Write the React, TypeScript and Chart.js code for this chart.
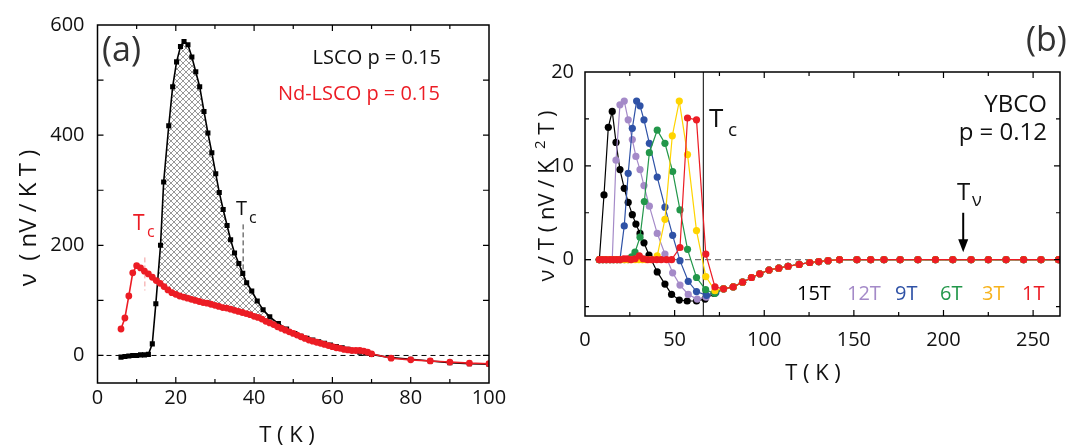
import React, { useEffect, useRef } from "react";
import { Chart, registerables } from "chart.js";
Chart.register(...registerables);

// ---------- Panel (a) data ----------
const lscoT = [6, 7, 8, 9, 10, 11, 12, 13, 14, 14.9, 16.1, 16.9, 18.2, 19.2, 20.2, 21.2, 22.1, 23.1, 24.1, 25.1, 26.1, 27.2, 28.2, 29.2, 30.2, 31.1, 32.1, 33.1, 34, 35, 36.1, 37.1, 38.1, 39.4, 40.8, 42.3, 44, 46.2, 48.3, 50.4, 52, 53.5, 55, 56.5, 58, 59.5, 61, 62.5, 64, 65.5, 67, 68.5, 70, 75, 80, 85, 90, 95, 100];
const lscoV = [-3, -2, -1, 0, 0, 1, 1, 2, 21, 94, 200, 315, 417, 488, 533, 561, 570, 564, 542, 515, 488, 443, 404, 368, 330, 296, 265, 236, 210, 186, 167, 149, 132, 117, 99, 83, 70, 58, 48, 40, 35, 31, 28, 25, 22, 19, 16, 14, 11, 9, 6, 4, 2, -4, -7, -10, -13, -15, -16];
const ndT = [6, 7, 8, 9, 10, 11, 12, 13, 14, 15, 16, 17, 18, 19, 20, 21, 22, 23, 24, 25, 26, 27, 28, 29, 30, 31, 32, 33, 34, 35, 36, 37, 38, 39, 40, 41, 42, 43, 44, 45, 46, 47, 48, 49, 50, 51, 52, 53, 54, 55, 56, 57, 58, 59, 60, 61, 62, 63, 64, 65, 66, 67, 68, 69, 70, 75, 80, 85, 90, 95, 100];
const ndV = [48, 68, 108, 150, 163, 159, 153, 148, 142, 136, 131, 125, 119, 114, 111, 108, 106, 104, 102, 100, 98, 96, 95, 93, 91, 89, 87, 86, 84, 82, 80, 78, 76, 74, 71, 69, 66, 62, 59, 56, 52, 49, 46, 43, 40, 37, 34, 31, 28, 26, 24, 22, 20, 18, 16, 14, 13, 11, 10, 9, 9, 9, 8, 6, 3, -5, -8, -10, -12, -14, -15];
const aXTicks = [0, 20, 40, 60, 80, 100];
const aXMinor = [10, 30, 50, 70, 90];
const aYTicks = [0, 200, 400, 600];
const aYMinor = [100, 300, 500];
const tcLsco = 37.2;
const tcNd = 12.1;

// ---------- Panel (b) data ----------
const b15T = [8, 10.6, 13, 15.2, 17.3, 19.5, 21.9, 24.1, 26.4, 28.4, 30.7, 32.9, 35.7, 40.3, 44.6, 48.3, 52.6, 57, 62.2, 67, 72];
const b15V = [0, 6.9, 14.1, 15.8, 12.5, 9.6, 7.6, 6.1, 4.8, 3.8, 2.8, 1.8, 0.5, -1.3, -2.6, -3.7, -4.3, -4.4, -4.4, -4.2, -3.6];
const b12T = [8, 10, 12, 14, 15.2, 17.3, 19.5, 21.9, 24.1, 26.4, 28.4, 30.7, 32.9, 35.9, 40.3, 44.6, 48.9, 53, 57.6, 62.6, 67.6, 72.5];
const b12V = [0, 0, 0, 0, 0, 10.6, 16.5, 16.9, 14.9, 12.8, 11.0, 9.6, 7.9, 5.7, 2.8, 0.6, -1.4, -2.7, -3.7, -4.2, -4.0, -3.5];
const b9T = [8, 10, 12, 14, 16, 18, 19.5, 21.9, 24.1, 26.4, 28.8, 30.7, 32.9, 35.9, 40.3, 44.6, 48.9, 53, 57.6, 62.2, 67.8, 73];
const b9V = [0, 0, 0, 0, 0, 0, 0, 3.6, 9.2, 14, 16.9, 16.4, 14.9, 12.4, 8.8, 5.6, 2.6, -0.1, -2.3, -3.4, -3.8, -3.5];
const b6T = [8, 10, 12, 14, 16, 18, 20, 22, 24.1, 26, 27.9, 30.7, 33.1, 35.9, 40.3, 44.6, 48.9, 53, 57.2, 62.2, 67.3, 72.4];
const b6V = [0, 0, 0, 0, 0, 0, 0, 0, 0, 0.3, 0.8, 2.4, 6.2, 11.4, 13.8, 12.4, 9.4, 5.3, 1.1, -1.9, -3.2, -3.6];
const b3T = [8, 10, 12, 14, 16, 18, 20, 22, 24, 26, 28, 30, 32, 34, 36.5, 40.3, 44.6, 48.7, 52.6, 57.2, 62.2, 67.4, 72.5];
const b3V = [0, 0, 0, 0, 0, 0, 0, 0, 0, 0, 0, 0, 0, 0, 0, 0.4, 4.3, 13.2, 16.9, 11.2, 3.1, -1.8, -3.3];
const b1T = [8, 9.8, 11.7, 13.9, 15.8, 17.7, 19.5, 21.7, 23.6, 25.6, 27.9, 30.3, 32.5, 35, 37.5, 40, 42.5, 45.5, 48.3, 53, 57.2, 62.2, 67.4, 72.5];
const b1V = [0, 0, 0, 0, 0, 0, 0, 0.1, 0.1, 0, 0.1, 0.4, 0.1, 0, 0, 0, 0, 0, 0, 1.3, 15.1, 14.9, 0.6, -2.9];
// common high-temperature tail shared by all fields
const tailT = [77.3, 82.7, 87.9, 92.9, 97.5, 102.7, 108.1, 113.3, 119.5, 125.4, 130.4, 135.6, 142, 151.7, 159.4, 166.8, 175.8, 185.7, 195.5, 205.2, 215.4, 225, 234.9, 244.7, 254.4, 264.2];
const tailV = [-3.1, -2.9, -2.4, -1.9, -1.5, -1.1, -0.9, -0.7, -0.5, -0.3, -0.2, -0.1, 0, 0, 0, 0, 0, 0, 0, 0, 0, 0, 0, 0, 0, 0];
const bLabels = ["15T", "12T", "9T", "6T", "3T", "1T"];
const bColors = ["#000000", "#a48ac8", "#2f52a6", "#22974a", "#ffd400", "#ec1c24"];
const bLabelColors = ["#000000", "#a48ac8", "#2f52a6", "#22974a", "#f7b31c", "#ec1c24"];
const bXTicks = [0, 50, 100, 150, 200, 250];
const bXMinor = [25, 75, 125, 175, 225];
const bYTicks = [0, 10, 20];
const bYMinor = [-5, 5, 15];
const tcYbco = 66;
const tNu = 211;

const FONT = "'Open Sans', 'DejaVu Sans', sans-serif";
const RED = "#ec1c24";

function pts(t: number[], v: number[]) {
  return t.map((x, i) => ({ x, y: v[i] }));
}

function makeHatch(): CanvasPattern | string {
  const c = document.createElement("canvas");
  const s = 6;
  c.width = s;
  c.height = s;
  const g = c.getContext("2d");
  if (!g) return "rgba(120,120,120,0.4)";
  g.strokeStyle = "#8c8c8c";
  g.lineWidth = 0.9;
  g.beginPath();
  g.moveTo(-1, -1);
  g.lineTo(s + 1, s + 1);
  g.moveTo(s + 1, -1);
  g.lineTo(-1, s + 1);
  g.stroke();
  return g.createPattern(c, "repeat") || "rgba(120,120,120,0.4)";
}

function txt(ctx: CanvasRenderingContext2D, s: string, x: number, y: number, size: number, color: string, align: CanvasTextAlign = "left", baseline: CanvasTextBaseline = "alphabetic") {
  ctx.font = `${size}px ${FONT}`;
  ctx.fillStyle = color;
  ctx.textAlign = align;
  ctx.textBaseline = baseline;
  ctx.fillText(s, x, y);
}

type Part = { t: string; size: number; raise?: number };
function vtext(ctx: CanvasRenderingContext2D, parts: Part[], cx: number, cy: number, color = "#111") {
  ctx.save();
  ctx.translate(cx, cy);
  ctx.rotate(-Math.PI / 2);
  ctx.textBaseline = "alphabetic";
  ctx.textAlign = "left";
  ctx.fillStyle = color;
  let total = 0;
  const ws = parts.map((p) => {
    ctx.font = `${p.size}px ${FONT}`;
    const w = ctx.measureText(p.t).width;
    total += w;
    return w;
  });
  let x = -total / 2;
  parts.forEach((p, i) => {
    ctx.font = `${p.size}px ${FONT}`;
    ctx.fillText(p.t, x, 8 - (p.raise || 0));
    x += ws[i];
  });
  ctx.restore();
}

function drawFrameTicks(chart: any, xMaj: number[], xMin: number[], yMaj: number[], yMin: number[], majLen: number, minLen: number) {
  const { ctx, chartArea: a, scales } = chart;
  const xs = scales.x;
  const ys = scales.y;
  ctx.save();
  ctx.strokeStyle = "#000";
  ctx.lineWidth = 1.5;
  ctx.setLineDash([]);
  ctx.strokeRect(a.left, a.top, a.right - a.left, a.bottom - a.top);
  ctx.lineWidth = 1.2;
  ctx.beginPath();
  const xt = (vals: number[], len: number) => {
    for (const v of vals) {
      const p = xs.getPixelForValue(v);
      if (p <= a.left + 1 || p >= a.right - 1) continue;
      ctx.moveTo(p, a.bottom);
      ctx.lineTo(p, a.bottom - len);
      ctx.moveTo(p, a.top);
      ctx.lineTo(p, a.top + len);
    }
  };
  const yt = (vals: number[], len: number) => {
    for (const v of vals) {
      const p = ys.getPixelForValue(v);
      if (p <= a.top + 1 || p >= a.bottom - 1) continue;
      ctx.moveTo(a.left, p);
      ctx.lineTo(a.left + len, p);
      ctx.moveTo(a.right, p);
      ctx.lineTo(a.right - len, p);
    }
  };
  xt(xMaj, majLen);
  xt(xMin, minLen);
  yt(yMaj, majLen);
  yt(yMin, minLen);
  ctx.stroke();
  ctx.restore();
}

const panelAPlugin = {
  id: "panelA",
  beforeDatasetsDraw(chart: any) {
    const { ctx, chartArea: a, scales } = chart;
    const xs = scales.x;
    const ys = scales.y;
    ctx.save();
    ctx.strokeStyle = "#000";
    ctx.lineWidth = 1;
    ctx.setLineDash([5, 4]);
    const y0 = ys.getPixelForValue(0);
    ctx.beginPath();
    ctx.moveTo(a.left, y0);
    ctx.lineTo(a.right, y0);
    ctx.stroke();
    ctx.setLineDash([5, 3]);
    ctx.strokeStyle = "#333";
    const xb = xs.getPixelForValue(tcLsco);
    ctx.beginPath();
    ctx.moveTo(xb, ys.getPixelForValue(238));
    ctx.lineTo(xb, ys.getPixelForValue(150));
    ctx.stroke();
    ctx.strokeStyle = "#f39a9a";
    const xr = xs.getPixelForValue(tcNd);
    ctx.beginPath();
    ctx.moveTo(xr, ys.getPixelForValue(178));
    ctx.lineTo(xr, ys.getPixelForValue(118));
    ctx.stroke();
    ctx.restore();
  },
  afterDraw(chart: any) {
    const { ctx } = chart;
    drawFrameTicks(chart, aXTicks, aXMinor, aYTicks.concat(aYMinor), [], 6, 4);
    ctx.save();
    txt(ctx, "(a)", 102, 51, 34, "#333", "left", "middle");
    txt(ctx, "LSCO p = 0.15", 441, 64, 20, "#111", "right");
    txt(ctx, "Nd-LSCO p = 0.15", 440, 100, 20, RED, "right");
    txt(ctx, "T", 236, 215, 20, "#111");
    txt(ctx, "c", 249, 223, 16, "#111");
    txt(ctx, "T", 133, 230, 21, RED);
    txt(ctx, "c", 147, 237, 16, RED);
    vtext(ctx, [{ t: "ν  ( nV / K T )", size: 24 }], 28, 218);
    txt(ctx, "T ( K )", 287, 442, 22, "#111", "center");
    ctx.restore();
  },
};

const panelBPlugin = {
  id: "panelB",
  beforeDatasetsDraw(chart: any) {
    const { ctx, chartArea: a, scales } = chart;
    const xs = scales.x;
    const ys = scales.y;
    ctx.save();
    ctx.strokeStyle = "#555";
    ctx.lineWidth = 1;
    ctx.setLineDash([6, 4]);
    const y0 = ys.getPixelForValue(0);
    ctx.beginPath();
    ctx.moveTo(a.left, y0);
    ctx.lineTo(a.right, y0);
    ctx.stroke();
    ctx.setLineDash([]);
    ctx.strokeStyle = "#000";
    ctx.lineWidth = 1;
    const xt = xs.getPixelForValue(tcYbco);
    ctx.beginPath();
    ctx.moveTo(xt, a.top);
    ctx.lineTo(xt, a.bottom);
    ctx.stroke();
    ctx.restore();
  },
  afterDraw(chart: any) {
    const { ctx, scales } = chart;
    const xs = scales.x;
    const ys = scales.y;
    drawFrameTicks(chart, bXTicks, bXMinor, bYTicks, bYMinor, 6, 4);
    ctx.save();
    txt(ctx, "(b)", 506, 41, 34, "#333", "left", "middle");
    txt(ctx, "T", 189, 127, 26, "#111");
    txt(ctx, "c", 208, 136, 19, "#111");
    txt(ctx, "YBCO", 527, 112, 24, "#111", "right");
    txt(ctx, "p = 0.12", 527, 140, 24, "#111", "right");
    txt(ctx, "T", 437, 200, 24, "#111");
    txt(ctx, "ν", 452, 206, 18, "#111");
    // arrow
    const ax = xs.getPixelForValue(tNu);
    const y1 = ys.getPixelForValue(5.0);
    const y2 = ys.getPixelForValue(0.8);
    ctx.strokeStyle = "#000";
    ctx.fillStyle = "#000";
    ctx.lineWidth = 2;
    ctx.beginPath();
    ctx.moveTo(ax, y1);
    ctx.lineTo(ax, y2 - 10);
    ctx.stroke();
    ctx.beginPath();
    ctx.moveTo(ax - 5, y2 - 13);
    ctx.lineTo(ax + 5, y2 - 13);
    ctx.lineTo(ax, y2);
    ctx.closePath();
    ctx.fill();
    const lx = [277, 327, 375, 420, 462, 502];
    bLabels.forEach((l, i) => txt(ctx, l, lx[i], 300, 20, bLabelColors[i]));
    vtext(ctx, [{ t: "ν / T ( nV / K  ", size: 22 }, { t: "2", size: 15, raise: 9 }, { t: " T )", size: 22 }], 26, 196);
    txt(ctx, "T ( K )", 293, 380, 22, "#111", "center");
    ctx.restore();
  },
};

function axis(min: number, max: number, ticks: number[], afterFit: (s: any) => void, padding: number) {
  return {
    type: "linear" as const,
    min,
    max,
    afterBuildTicks: (s: any) => {
      s.ticks = ticks.map((v) => ({ value: v }));
    },
    afterFit,
    grid: { display: false, drawTicks: false },
    border: { display: false },
    ticks: {
      autoSkip: false,
      maxRotation: 0,
      padding,
      color: "#111",
      font: { family: FONT, size: 20 },
    },
  };
}

export default function App() {
  const refA = useRef<HTMLCanvasElement>(null);
  const refB = useRef<HTMLCanvasElement>(null);
  useEffect(() => {
    const hatch = makeHatch();
    const common = {
      animation: false as const,
      responsive: false,
      events: [] as any[],
      plugins: { legend: { display: false }, tooltip: { enabled: false } },
    };
    const chartA = new Chart(refA.current as HTMLCanvasElement, {
      type: "line",
      data: {
        datasets: [
          {
            data: pts(lscoT, lscoV),
            borderColor: "#000",
            borderWidth: 1.6,
            pointStyle: "rect",
            pointRadius: 3.6,
            pointBackgroundColor: "#000",
            pointBorderWidth: 0,
            fill: { target: 1, above: hatch as any, below: "rgba(0,0,0,0)" },
            order: 2,
          } as any,
          {
            data: pts(ndT, ndV),
            borderColor: RED,
            borderWidth: 1.6,
            pointStyle: "circle",
            pointRadius: 3.4,
            pointBackgroundColor: RED,
            pointBorderWidth: 0,
            fill: false,
            order: 1,
          },
        ],
      },
      options: {
        ...common,
        layout: { padding: { left: 0, right: 31, top: 19, bottom: 0 } },
        scales: {
          x: axis(0, 100, aXTicks, (s) => { s.height = 63; }, 3),
          y: axis(-50, 600, aYTicks, (s) => { s.width = 97.5; }, 13),
        },
      } as any,
      plugins: [panelAPlugin],
    });

    const series = [
      [b15T, b15V],
      [b12T, b12V],
      [b9T, b9V],
      [b6T, b6V],
      [b3T, b3V],
      [b1T, b1V],
    ];
    const chartB = new Chart(refB.current as HTMLCanvasElement, {
      type: "line",
      data: {
        datasets: series.map(([t, v], i) => ({
          data: pts(t.concat(tailT), v.concat(tailV)),
          borderColor: bColors[i],
          borderWidth: 1.2,
          pointRadius: 3.6,
          pointBackgroundColor: bColors[i],
          pointBorderWidth: 0,
          fill: false,
          order: 6 - i,
        })),
      },
      options: {
        ...common,
        layout: { padding: { left: 0, right: 12, top: 72, bottom: 0 } },
        scales: {
          x: axis(0, 265, bXTicks, (s) => { s.height = 130; }, 12),
          y: axis(-6, 20, bYTicks, (s) => { s.width = 65; }, 11),
        },
      } as any,
      plugins: [panelBPlugin],
    });
    return () => {
      chartA.destroy();
      chartB.destroy();
    };
  }, []);
  return (
    <div style={{ position: "fixed", left: 0, top: 0, width: 1072, height: 446, background: "#fff" }}>
      <canvas ref={refA} width={520} height={446} style={{ position: "absolute", left: 0, top: 0, width: 520, height: 446 }} />
      <canvas ref={refB} width={552} height={446} style={{ position: "absolute", left: 520, top: 0, width: 552, height: 446 }} />
    </div>
  );
}
